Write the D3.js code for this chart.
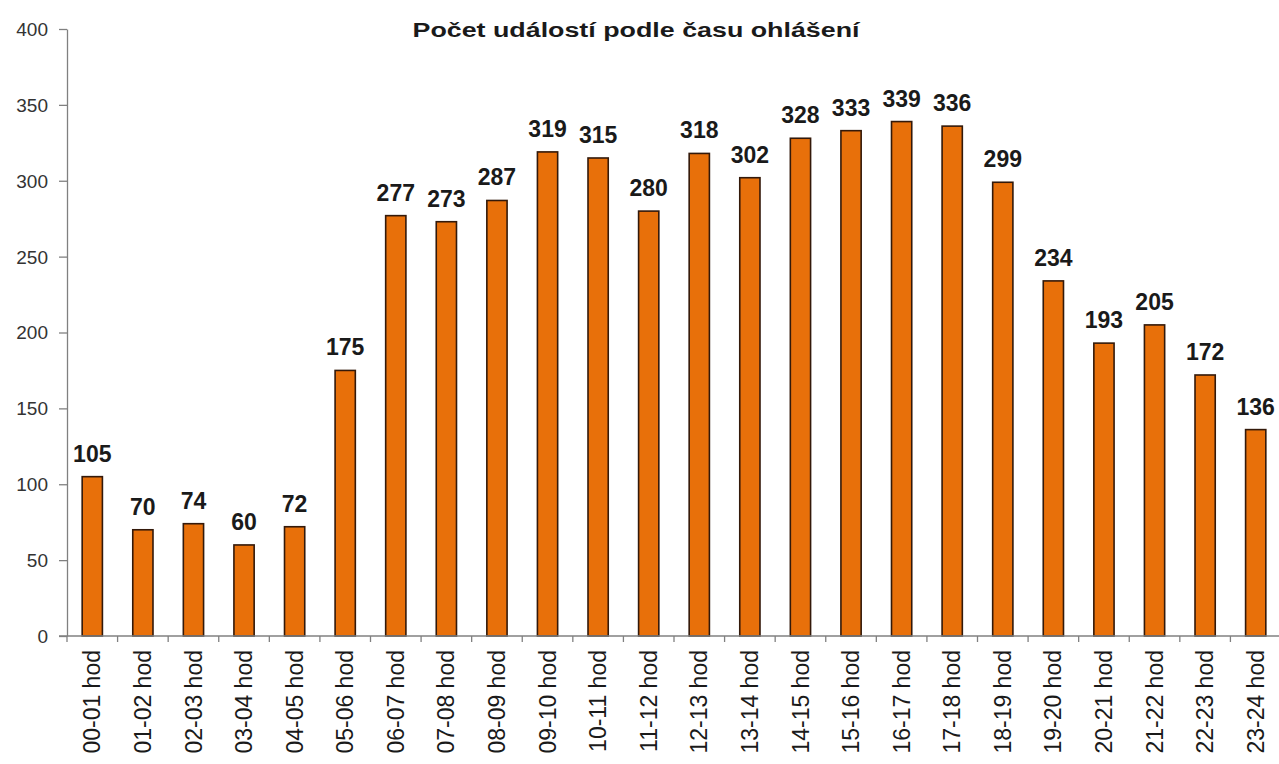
<!DOCTYPE html>
<html lang="cs">
<head>
<meta charset="UTF-8">
<title>Počet událostí podle času ohlášení</title>
<script src="https://d3js.org/d3.v7.min.js"></script>
<style>
  body { margin: 0; background: #fff; }
  text { font-family: "Liberation Sans", Arial, sans-serif; }
  .axis path, .axis line { stroke: #808080; stroke-width: 1.3px; }
  .y-axis text { font-size: 19px; fill: #333; }
  .x-axis text { font-size: 23px; fill: #1a1a1a; }
  .bar { fill: #e8700a; stroke: #33190a; stroke-width: 1.6px; }
  .val { font-size: 23px; font-weight: bold; fill: #1a1a1a; }
  .title { font-size: 20px; font-weight: bold; fill: #1a1a1a; }
</style>
</head>
<body>
<script>
// hourly slots and event counts
const hours = ["00-01 hod", "01-02 hod", "02-03 hod", "03-04 hod", "04-05 hod", "05-06 hod",
  "06-07 hod", "07-08 hod", "08-09 hod", "09-10 hod", "10-11 hod", "11-12 hod",
  "12-13 hod", "13-14 hod", "14-15 hod", "15-16 hod", "16-17 hod", "17-18 hod",
  "18-19 hod", "19-20 hod", "20-21 hod", "21-22 hod", "22-23 hod", "23-24 hod"];
const counts = [105, 70, 74, 60, 72, 175, 277, 273, 287, 319, 315, 280,
  318, 302, 328, 333, 339, 336, 299, 234, 193, 205, 172, 136];
const yTicks = [0, 50, 100, 150, 200, 250, 300, 350, 400];

const width = 1279, height = 764;
const margin = {top: 29, right: -2, bottom: 128, left: 67};

const svg = d3.select("body").append("svg")
  .attr("width", width)
  .attr("height", height);

const x = d3.scaleBand()
  .domain(hours)
  .range([margin.left, width - margin.right])
  .paddingInner(0.6)
  .paddingOuter(0.3);

const y = d3.scaleLinear()
  .domain([0, 400])
  .range([height - margin.bottom, margin.top]);

// title
svg.append("text")
  .attr("class", "title")
  .attr("x", 636)
  .attr("y", 37)
  .attr("text-anchor", "middle")
  .attr("textLength", 447)
  .attr("lengthAdjust", "spacingAndGlyphs")
  .text("Počet událostí podle času ohlášení");

// y axis
const yAxis = svg.append("g")
  .attr("class", "axis y-axis")
  .attr("transform", `translate(${margin.left},0)`)
  .call(d3.axisLeft(y).tickValues(yTicks).tickSize(8).tickPadding(11).tickSizeOuter(0));
yAxis.selectAll("text").attr("dy", "0.34em");

// bars
svg.selectAll(".bar")
  .data(counts)
  .enter().append("rect")
  .attr("class", "bar")
  .attr("x", (d, i) => x(hours[i]))
  .attr("y", d => y(d))
  .attr("width", x.bandwidth())
  .attr("height", d => y(0) - y(d));

// value labels
svg.selectAll(".val")
  .data(counts)
  .enter().append("text")
  .attr("class", "val")
  .attr("x", (d, i) => x(hours[i]) + x.bandwidth() / 2)
  .attr("y", d => y(d) - 15)
  .attr("text-anchor", "middle")
  .text(d => d);

// x axis: ticks sit between the categories
const step = x.step();
const xAxis = svg.append("g")
  .attr("class", "axis x-axis")
  .attr("transform", `translate(0,${y(0)})`);
xAxis.append("line")
  .attr("x1", margin.left - 8).attr("x2", width)
  .attr("y1", 0).attr("y2", 0);
xAxis.selectAll(".tk")
  .data(d3.range(hours.length))
  .enter().append("line")
  .attr("class", "tk")
  .attr("x1", i => x(hours[i]) - x.paddingOuter() * step)
  .attr("x2", i => x(hours[i]) - x.paddingOuter() * step)
  .attr("y1", 0).attr("y2", 6);
xAxis.selectAll(".lbl")
  .data(hours)
  .enter().append("text")
  .attr("class", "lbl")
  .attr("transform", d => `translate(${x(d) + x.bandwidth() / 2},14) rotate(-90)`)
  .attr("text-anchor", "end")
  .attr("dy", "0.35em")
  .text(d => d);
</script>
</body>
</html>
